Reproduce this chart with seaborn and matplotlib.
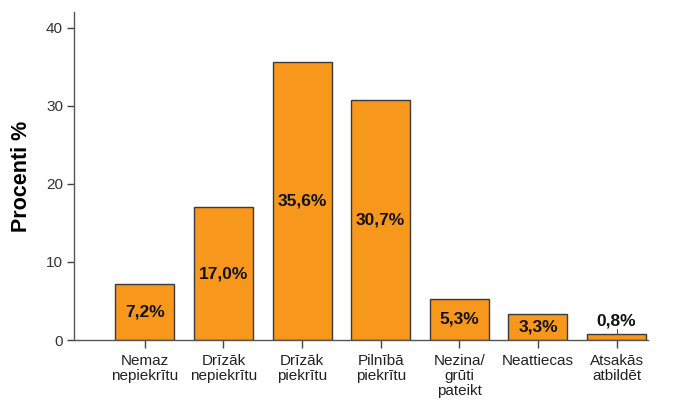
import matplotlib
matplotlib.use("Agg")
import matplotlib.pyplot as plt
import seaborn as sns
import pandas as pd

categories = ["Nemaz\nnepiekrītu", "Drīzāk\nnepiekrītu", "Drīzāk\npiekrītu",
              "Pilnībā\npiekrītu", "Nezina/\ngrūti\npateikt", "Neattiecas",
              "Atsakās\natbildēt"]
percent = [7.2, 17.0, 35.6, 30.7, 5.3, 3.3, 0.8]
value_labels = ["7,2%", "17,0%", "35,6%", "30,7%", "5,3%", "3,3%", "0,8%"]
y_ticks = [0, 10, 20, 30, 40]

sns.set_theme(style="white")
plt.rcParams["font.family"] = ["Liberation Sans", "DejaVu Sans"]

df = pd.DataFrame({"cat": categories, "pct": percent})

fig = plt.figure(figsize=(6.8, 4.0), dpi=100)
ax = fig.add_axes([0.109, 0.15, 0.844, 0.82])

sns.barplot(data=df, x="cat", y="pct", color="#F7981D", saturation=1,
            edgecolor="#3a3a3a", linewidth=1.0, width=0.75, ax=ax)

ax.set_xlim(-0.9, 6.4)
ax.set_ylim(0, 42)
ax.set_yticks(y_ticks)
ax.set_xlabel("")
ax.set_ylabel("Procenti %", fontsize=15.5, fontweight="bold", color="black", labelpad=10)

for s in ["top", "right"]:
    ax.spines[s].set_visible(False)
for s in ["left", "bottom"]:
    ax.spines[s].set_color("#555555")
    ax.spines[s].set_linewidth(1.0)

ax.tick_params(axis="y", direction="out", length=5, width=1, color="#444444",
               labelsize=11, labelcolor="#333333", pad=3, left=True)
ax.tick_params(axis="x", direction="out", length=6, width=1, color="#444444",
               labelsize=11, labelcolor="#222222", pad=4, bottom=True)
for lab in ax.get_xticklabels():
    lab.set_linespacing(1.1)

for i, (v, txt) in enumerate(zip(percent, value_labels)):
    if v >= 2:
        ax.text(i, v / 2, txt, ha="center", va="center", fontsize=12.5,
                fontweight="bold", color="#111111")
    else:
        ax.plot([i, i], [v, v + 0.6], color="#555555", lw=0.8)
        ax.text(i, v + 0.7, txt, ha="center", va="bottom", fontsize=12.5,
                fontweight="bold", color="#111111")

fig.savefig("out.png", dpi=100)
